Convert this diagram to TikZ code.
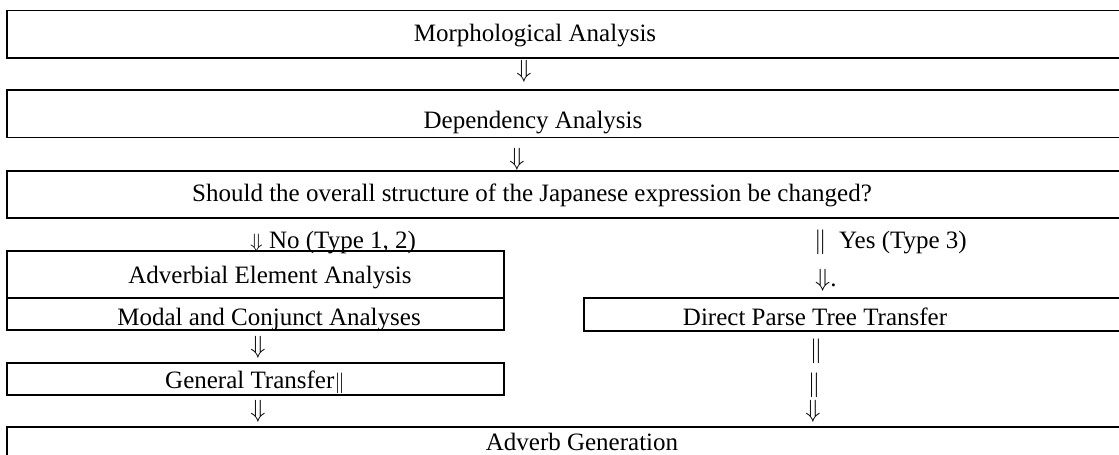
\documentclass[tikz,border=0pt]{standalone}
\usepackage{fontspec}
\setmainfont{Liberation Serif}
\usepackage{tikz}
\tikzset{
	stage/.style={line width=1.5pt},
	txt/.style={inner sep=0pt, anchor=base, font=\fontsize{25}{30}\selectfont},
	txtl/.style={txt, anchor=base west}
}
\newcommand{\smallbars}{{\fontsize{20.74}{21}\selectfont$\|$}}
\newcommand{\smalldn}{{\fontsize{20.74}{21}\selectfont$\Downarrow$}}

\begin{document}
\begin{tikzpicture}[x=1pt, y=-1pt]
			%%%%% START %%%%%
			\useasboundingbox (0, 0) rectangle (1119, 455);
			\clip (0, 0) rectangle (1119, 455);
			
			% full width stages
			\draw[stage] (7, 10.5) rectangle (1130, 58);
			\draw[stage] (7, 90) rectangle (1130, 137.5);
			\draw[stage] (7, 171) rectangle (1130, 218);
			\draw[stage] (7, 427) rectangle (1130, 480);
			
			% left branch
			\draw[stage] (7, 251) rectangle (504, 298);
			\draw[stage] (7, 298) rectangle (504, 330);
			\draw[stage] (7, 363) rectangle (504, 395);
			
			% right branch
			\draw[stage] (584, 298) rectangle (1130, 331);
			
			\node[txt] (morph) at (535, 41) {Morphological Analysis};
			\node[txt] (dep) at (533, 128) {Dependency Analysis};
			\node[txt] (quest) at (532, 201) {Should the overall structure of the Japanese expression be changed?};
			\node[txt] (advel) at (270, 283) {Adverbial Element Analysis};
			\node[txt] (modal) at (269, 325) {Modal and Conjunct Analyses};
			\node[txtl] (gentr) at (165, 388) {General Transfer\smallbars};
			\node[txt] (direct) at (815, 325) {Direct Parse Tree Transfer};
			\node[txt] (advgen) at (582, 450) {Adverb Generation};
			
			% branch labels
			\node[txtl] (no) at (250, 248) {\smalldn\ No (Type 1, 2)};
			\node[txtl] (yes) at (814, 248) {$\|$\ \ Yes (Type 3)};
			\node[txtl] (yesdn) at (815, 286) {$\Downarrow$.};
			
			% arrows
			\node[txt] (dn1) at (524, 77) {$\Downarrow$};
			\node[txt] (dn2) at (517, 165) {$\Downarrow$};
			\node[txt] (dn3) at (258, 353) {$\Downarrow$};
			\node[txt] (dn4) at (258, 417) {$\Downarrow$};
			\node[txt] (bar1) at (816, 357) {$\|$};
			\node[txt] (bar2) at (814, 391) {$\|$};
			\node[txt] (dn5) at (813, 417) {$\Downarrow$};
			%%%%% END %%%%%
\end{tikzpicture}
\end{document}
